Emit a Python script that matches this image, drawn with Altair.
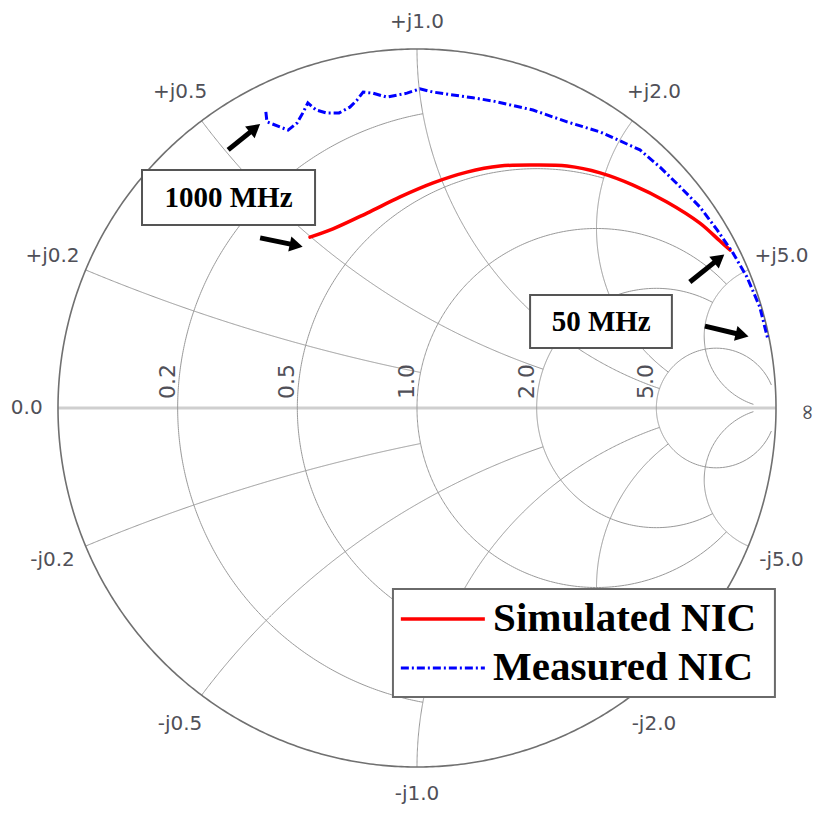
import math
import altair as alt
import numpy as np
import pandas as pd

# ---------------- values ----------------
# Smith-chart grid values (circle value, value where that circle stops)
grid_values = [0.2, 0.5, 1.0, 2.0, 5.0]
grid_limits = [1.0, 2.0, 5.0, 5.0, 30.0]
r_label_text = ["0.2", "0.5", "1.0", "2.0", "5.0"]
x_label_pos = ["+j0.2", "+j0.5", "+j1.0", "+j2.0", "+j5.0"]
x_label_neg = ["-j0.2", "-j0.5", "-j1.0", "-j2.0", "-j5.0"]

# Simulated NIC: reflection coefficient (real, imag), 1000 MHz -> 50 MHz
sim_re = [-0.298, -0.234, -0.139, -0.047, 0.045, 0.139, 0.231, 0.323, 0.418,
          0.510, 0.602, 0.696, 0.788, 0.844, 0.872]
sim_im = [0.476, 0.499, 0.543, 0.588, 0.627, 0.657, 0.674, 0.677, 0.674,
          0.655, 0.621, 0.574, 0.515, 0.465, 0.440]

# Measured NIC
meas_re = [-0.421, -0.418, -0.382, -0.359, -0.334, -0.318, -0.304, -0.281, -0.253,
           -0.217, -0.187, -0.167, -0.150, -0.123, -0.084, -0.028, 0.008, 0.045,
           0.100, 0.156, 0.212, 0.323, 0.418, 0.510, 0.621, 0.677, 0.733, 0.788,
           0.836, 0.880, 0.919, 0.955, 0.978]
meas_im = [0.825, 0.797, 0.783, 0.774, 0.794, 0.822, 0.850, 0.830, 0.822,
           0.822, 0.838, 0.858, 0.880, 0.877, 0.866, 0.877, 0.889, 0.880,
           0.872, 0.864, 0.855, 0.830, 0.797, 0.769, 0.719, 0.671, 0.616, 0.560,
           0.496, 0.432, 0.365, 0.281, 0.189]

series_names = ["Simulated NIC", "Measured NIC"]
series_colors = ["#ff0000", "#0000ff"]
freq_labels = ["1000 MHz", "50 MHz"]

# arrows (tail -> head), reflection-coefficient coordinates
arrow_tail_re = [-0.526, -0.437, 0.760, 0.802]
arrow_tail_im = [0.719, 0.474, 0.351, 0.228]
arrow_head_re = [-0.443, -0.326, 0.850, 0.916]
arrow_head_im = [0.786, 0.451, 0.423, 0.201]

# ---------------- layout ----------------
W, H = 811, 805
CX, CY, R = 409.0, 400.0, 359.0
PX = 1.0 / R
X_DOM = [-CX / R, (W - CX) / R]
Y_DOM = [-(H - CY) / R, CY / R]
xs = alt.Scale(domain=X_DOM, nice=False, zero=False)
ys = alt.Scale(domain=Y_DOM, nice=False, zero=False)
LAB_R = 1.10
LAB_MAX_X = 1.087
LAB_MAX_Y = 1.076


def X(f="gx"):
    return alt.X(f"{f}:Q", scale=xs, axis=None)


def Y(f="gy"):
    return alt.Y(f"{f}:Q", scale=ys, axis=None)


def gam(z):
    g = (z - 1) / (z + 1)
    return g.real, g.imag


def clamp(v, m):
    return max(-m, min(m, v))


# ---------------- grid geometry ----------------
rows = []
lid = 0
for v, lim in zip(grid_values, grid_limits):
    t = np.linspace(-math.atan(lim), math.atan(lim), 400)
    gx, gy = gam(v + 1j * np.tan(t))
    for k, (a, b) in enumerate(zip(gx, gy)):
        rows.append(dict(id=lid, o=k, gx=a, gy=b))
    lid += 1
    for s in (1, -1):
        t = np.linspace(0, math.atan(lim), 400)
        gx, gy = gam(np.tan(t) + 1j * s * v)
        for k, (a, b) in enumerate(zip(gx, gy)):
            rows.append(dict(id=lid, o=k, gx=a, gy=b))
        lid += 1
grid_df = pd.DataFrame(rows)

th = np.linspace(0, 2 * np.pi, 721)
outer_df = pd.DataFrame(dict(o=np.arange(len(th)), gx=np.cos(th), gy=np.sin(th)))
axis_df = pd.DataFrame(dict(o=[0, 1], gx=[-1.0, 1.0], gy=[0.0, 0.0]))

axis_line = alt.Chart(axis_df).mark_line(color="#cfcfcf", strokeWidth=3).encode(
    x=X(), y=Y(), order="o:Q")
grid = alt.Chart(grid_df).mark_line(color="#999999", strokeWidth=1).encode(
    x=X(), y=Y(), detail="id:N", order="o:Q")
outer = alt.Chart(outer_df).mark_line(color="#707070", strokeWidth=1.6).encode(
    x=X(), y=Y(), order="o:Q")

# ---------------- labels ----------------
lab = []
for v, tp, tn in zip(grid_values, x_label_pos, x_label_neg):
    cr, ci = gam(np.array([1j * v]))
    gx, gy = clamp(LAB_R * cr[0], LAB_MAX_X), clamp(LAB_R * ci[0], LAB_MAX_Y)
    lab.append(dict(gx=gx, gy=gy, t=tp))
    lab.append(dict(gx=gx, gy=-gy, t=tn))
lab.append(dict(gx=-LAB_MAX_X, gy=0.0, t="0.0"))
lab_df = pd.DataFrame(lab)
x_labels = alt.Chart(lab_df).mark_text(
    font="DejaVu Sans", fontSize=20, color="#505058", align="center", baseline="middle"
).encode(x=X(), y=Y(), text="t:N")

rl = []
for v, t in zip(grid_values, r_label_text):
    rl.append(dict(gx=(v - 1) / (v + 1) - 3 * PX, gy=9 * PX, t=t))
rl_df = pd.DataFrame(rl)
r_labels = alt.Chart(rl_df).mark_text(
    font="DejaVu Sans", fontSize=22, color="#505058", align="left",
    baseline="alphabetic", angle=270
).encode(x=X(), y=Y(), text="t:N")

inf_label = alt.Chart(pd.DataFrame(dict(gx=[LAB_MAX_X], gy=[-4 * PX], t=["∞"]))).mark_text(
    font="DejaVu Sans", fontSize=22, color="#505058", align="center",
    baseline="middle", angle=270
).encode(x=X(), y=Y(), text="t:N")

# ---------------- data series ----------------
sim_df = pd.DataFrame(dict(o=range(len(sim_re)), gx=sim_re, gy=sim_im))
meas_df = pd.DataFrame(dict(o=range(len(meas_re)), gx=meas_re, gy=meas_im))
sim_line = alt.Chart(sim_df).mark_line(
    color=series_colors[0], strokeWidth=3.5, strokeCap="round", strokeJoin="round",
    interpolate="catmull-rom"
).encode(x=X(), y=Y(), order="o:Q")
meas_line = alt.Chart(meas_df).mark_line(
    color=series_colors[1], strokeWidth=3, strokeDash=[8, 3, 2, 3]
).encode(x=X(), y=Y(), order="o:Q")

# ---------------- frequency boxes ----------------
box_df = pd.DataFrame(dict(
    gx=[-0.766, 0.315], gx2=[-0.284, 0.710],
    gy=[0.663, 0.315], gy2=[0.510, 0.167],
    tx=[-0.525, 0.513], ty=[0.585, 0.240], t=freq_labels))
boxes = alt.Chart(box_df).mark_rect(fill="white", stroke="#555555", strokeWidth=2).encode(
    x=X(), x2="gx2:Q", y=Y(), y2="gy2:Q")
box_text = alt.Chart(box_df).mark_text(
    font="Liberation Serif", fontWeight="bold", fontSize=29, color="black",
    align="center", baseline="middle"
).encode(x=X("tx"), y=Y("ty"), text="t:N")

# ---------------- arrows ----------------
ar = []
for a, b, c, d in zip(arrow_tail_re, arrow_tail_im, arrow_head_re, arrow_head_im):
    dx, dy = c - a, d - b
    n = math.hypot(dx, dy)
    ux, uy = dx / n, dy / n
    hx, hy = c - 6 * PX * ux, d - 6 * PX * uy
    ang = math.degrees(math.atan2(dx, dy)) % 360
    ar.append(dict(gx=a, gy=b, gx2=hx, gy2=hy, ang=ang))
ar_df = pd.DataFrame(ar)
shafts = alt.Chart(ar_df).mark_rule(color="black", strokeWidth=5).encode(
    x=X(), y=Y(), x2="gx2:Q", y2="gy2:Q")
heads = alt.Chart(ar_df).mark_point(
    shape="triangle", filled=True, color="black", size=230, opacity=1
).encode(x=X("gx2"), y=Y("gy2"), angle=alt.Angle("ang:Q", scale=None))

# ---------------- legend ----------------
leg_box = alt.Chart(pd.DataFrame(dict(gx=[-0.067], gx2=[0.997], gy=[-0.504], gy2=[-0.805]))).mark_rect(
    fill="white", stroke="#6a6a6a", strokeWidth=2).encode(x=X(), x2="gx2:Q", y=Y(), y2="gy2:Q")
leg_df = pd.DataFrame(dict(gx=[-0.045, -0.045], gx2=[0.189, 0.189], gy=[-0.588, -0.724],
                           t=series_names, tx=[0.212, 0.212]))
leg_sim = alt.Chart(leg_df.iloc[[0]]).mark_rule(color=series_colors[0], strokeWidth=3.5).encode(
    x=X(), x2="gx2:Q", y=Y(), y2="gy:Q")
leg_meas = alt.Chart(leg_df.iloc[[1]]).mark_rule(
    color=series_colors[1], strokeWidth=3, strokeDash=[8, 3, 2, 3]).encode(
    x=X(), x2="gx2:Q", y=Y(), y2="gy:Q")
leg_text = alt.Chart(leg_df).mark_text(
    font="Liberation Serif", fontWeight="bold", fontSize=41, color="black",
    align="left", baseline="middle"
).encode(x=X("tx"), y=Y(), text="t:N")

chart = alt.layer(
    axis_line, grid, outer, x_labels, r_labels, inf_label,
    sim_line, meas_line, boxes, box_text, shafts, heads,
    leg_box, leg_sim, leg_meas, leg_text
).properties(
    width=W, height=H, padding=0,
    autosize=alt.AutoSizeParams(type="none"),
    background="white"
).configure_view(strokeWidth=0)

chart.save("out.html", embed_options={"renderer": "svg", "actions": False})
